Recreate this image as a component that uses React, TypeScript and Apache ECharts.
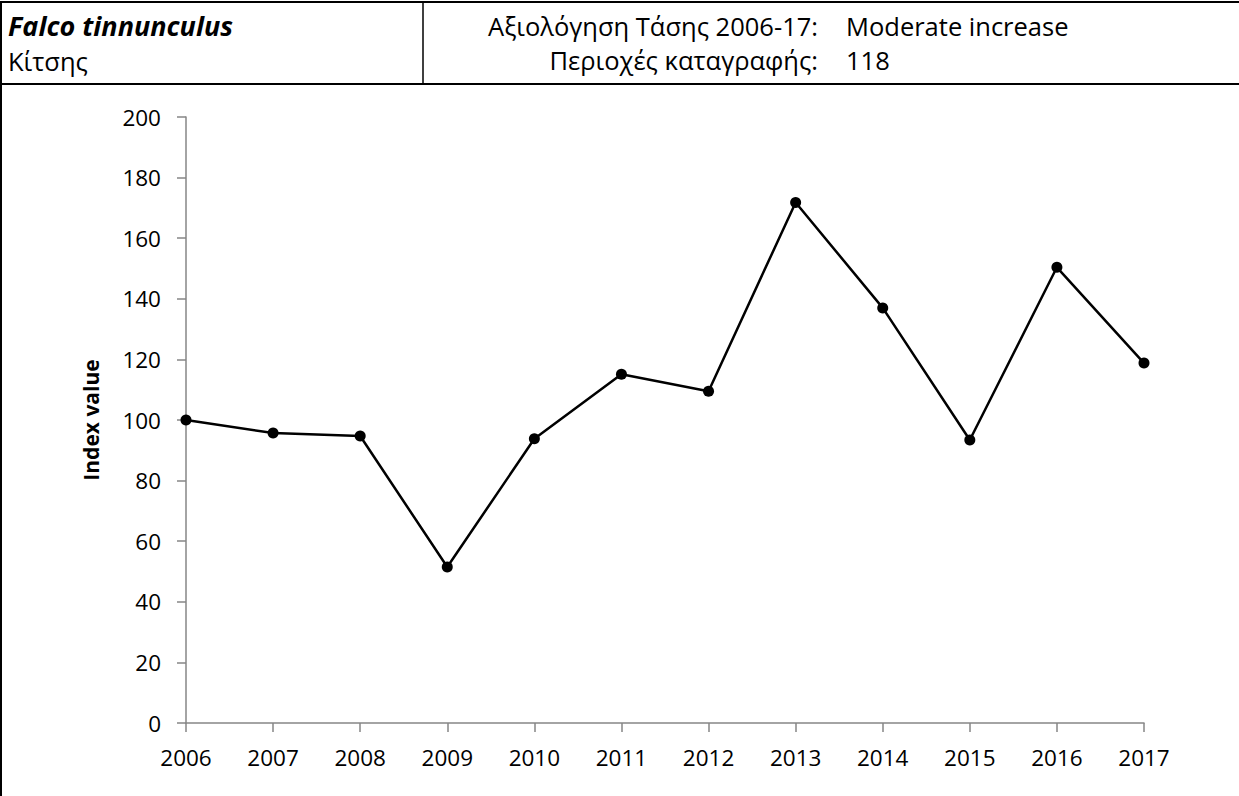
import React, { useEffect, useRef } from "react";
import * as echarts from "echarts";

const years = ["2006", "2007", "2008", "2009", "2010", "2011", "2012", "2013", "2014", "2015", "2016", "2017"];
const indexValues = [100, 95.7, 94.7, 51.5, 93.8, 115.1, 109.5, 171.8, 137.0, 93.4, 150.4, 118.8];
const speciesLatin = "Falco tinnunculus";
const speciesGreek = "Κίτσης";
const trendLabel = "Αξιολόγηση Τάσης 2006-17:";
const trendValue = "Moderate increase";
const sitesLabel = "Περιοχές καταγραφής:";
const sitesValue = "118";
const yTitle = "Index value";

const FONT = "'Open Sans', 'Noto Sans', sans-serif";

export default function App() {
  const ref = useRef<HTMLDivElement>(null);
  useEffect(() => {
    if (!ref.current) return;
    const chart = echarts.init(ref.current, null, { renderer: "svg" });
    const W = 1239;
    const H = 796;
    const txt = { fill: "#000", fontFamily: FONT, fontSize: 25.5, lineHeight: 26 };
    chart.setOption({
      animation: false,
      backgroundColor: "#fff",
      grid: { left: 186, right: 95, top: 117, bottom: 73, containLabel: false },
      xAxis: {
        type: "category",
        data: years,
        boundaryGap: false,
        axisLine: { lineStyle: { color: "#868686", width: 1.5 } },
        axisTick: { alignWithLabel: true, length: 9, lineStyle: { color: "#868686", width: 1.5 } },
        axisLabel: { color: "#000", fontFamily: FONT, fontSize: 22.5, lineHeight: 18, margin: 25 },
        splitLine: { show: false },
      },
      yAxis: {
        type: "value",
        min: 0,
        max: 200,
        interval: 20,
        name: yTitle,
        nameLocation: "middle",
        nameGap: 85,
        nameTextStyle: { color: "#000", fontFamily: FONT, fontSize: 21, fontWeight: "bold" },
        axisLine: { show: true, lineStyle: { color: "#868686", width: 1.5 } },
        axisTick: { show: true, length: 9, lineStyle: { color: "#868686", width: 1.5 } },
        axisLabel: { color: "#000", fontFamily: FONT, fontSize: 22.5, lineHeight: 18, margin: 25 },
        splitLine: { show: false },
      },
      series: [
        {
          type: "line",
          data: indexValues,
          symbol: "circle",
          symbolSize: 11,
          itemStyle: { color: "#000" },
          lineStyle: { color: "#000", width: 2.5 },
        },
      ],
      graphic: [
        { type: "line", shape: { x1: 0, y1: 2, x2: W, y2: 2 }, style: { stroke: "#000", lineWidth: 2 } },
        { type: "line", shape: { x1: 0, y1: 84, x2: W, y2: 84 }, style: { stroke: "#000", lineWidth: 2 } },
        { type: "line", shape: { x1: 1, y1: 2, x2: 1, y2: H }, style: { stroke: "#000", lineWidth: 2 } },
        { type: "line", shape: { x1: 423, y1: 2, x2: 423, y2: 84 }, style: { stroke: "#000", lineWidth: 1.5 } },
        { type: "text", x: 8, y: 25, style: { ...txt, text: speciesLatin, fontSize: 27, lineHeight: 27, fontWeight: "bold", fontStyle: "italic", verticalAlign: "middle" } },
        { type: "text", x: 8, y: 61, style: { ...txt, text: speciesGreek, verticalAlign: "middle" } },
        { type: "text", x: 818, y: 26, style: { ...txt, text: trendLabel, align: "right", verticalAlign: "middle" } },
        { type: "text", x: 818, y: 60, style: { ...txt, text: sitesLabel, align: "right", verticalAlign: "middle" } },
        { type: "text", x: 846, y: 26, style: { ...txt, text: trendValue, verticalAlign: "middle" } },
        { type: "text", x: 846, y: 60, style: { ...txt, text: sitesValue, verticalAlign: "middle" } },
      ],
    });
    return () => chart.dispose();
  }, []);
  return (
    <div
      ref={ref}
      style={{ position: "absolute", left: 0, top: 0, width: 1239, height: 796, background: "#fff" }}
    />
  );
}
